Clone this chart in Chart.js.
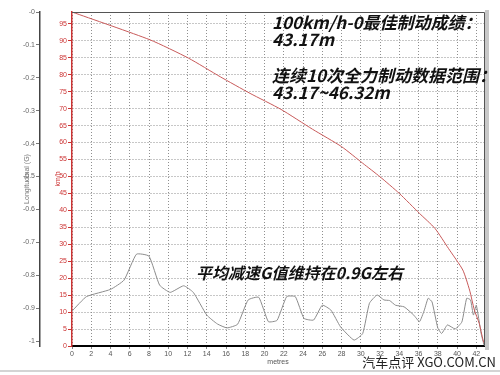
<!DOCTYPE html>
<html>
<head>
<meta charset="utf-8">
<script src="https://cdn.jsdelivr.net/npm/chart.js@4.4.1/dist/chart.umd.min.js"></script>
<style>
  html, body { margin: 0; padding: 0; background: #fff; }
</style>
</head>
<body>
<canvas id="grafico" width="500" height="375"></canvas>
<script>
const distVelocidad = [0, 8.1, 12.1, 15.4, 18.5, 21.7, 25.0, 28.0, 30.2, 32.0, 34.0, 36.1, 37.7, 39.1, 40.6, 41.3, 41.8, 42.3, 42.7, 42.9];
const velocidad = [98.5, 90.3, 84.9, 79.4, 74.5, 69.8, 63.9, 58.8, 53.9, 49.9, 45.0, 39.1, 34.7, 28.8, 22.4, 16.5, 10.6, 6.7, 1.8, 0.3];

// Deceleración longitudinal (G) contra distancia (m), curva gris
const distG = [0, 1.5, 4.0, 5.4, 6.7, 8.0, 9.1, 10.2, 11.6, 12.6, 14.0, 15.1, 16.1, 17.2, 18.3, 19.4, 20.4, 21.3, 22.3, 23.2, 24.1, 25.1, 26.0, 26.9, 27.9, 29.3, 30.2, 30.9, 31.7, 32.4, 33.0, 33.6, 34.5, 35.5, 36.1, 36.6, 37.0, 37.4, 38.0, 38.4, 39.0, 39.8, 40.5, 41.0, 41.4, 41.7, 42.0, 42.5, 42.8];
const longitudinalG = [-0.909, -0.865, -0.843, -0.815, -0.736, -0.742, -0.830, -0.852, -0.832, -0.852, -0.921, -0.948, -0.960, -0.949, -0.875, -0.867, -0.941, -0.937, -0.865, -0.865, -0.931, -0.936, -0.891, -0.906, -0.957, -0.997, -0.977, -0.885, -0.860, -0.875, -0.877, -0.891, -0.896, -0.921, -0.941, -0.906, -0.870, -0.881, -0.960, -0.977, -0.951, -0.963, -0.942, -0.870, -0.875, -0.921, -0.891, -0.977, -1.012];

// Marcas de los ejes
const xTicks = [0, 2, 4, 6, 8, 10, 12, 14, 16, 18, 20, 22, 24, 26, 28, 30, 32, 34, 36, 38, 40, 42];
const kmhTicks = [0, 5, 10, 15, 20, 25, 30, 35, 40, 45, 50, 55, 60, 65, 70, 75, 80, 85, 90, 95];
const gTicks = [0, -0.1, -0.2, -0.3, -0.4, -0.5, -0.6, -0.7, -0.8, -0.9, -1];
const gTickLabels = ["-0", "-0.1", "-0.2", "-0.3", "-0.4", "-0.5", "-0.6", "-0.7", "-0.8", "-0.9", "-1"];

const fuenteEje = { family: "Liberation Sans", size: 7 };
const colorRejilla = "#8f8f8f";

// Textos y marcos que van encima del gráfico
const textos = {
  id: "textos",
  afterDraw(chart) {
    const ctx = chart.ctx;
    const area = chart.chartArea;
    ctx.save();
    // borde superior y derecho del área
    ctx.strokeStyle = "#555";
    ctx.lineWidth = 1;
    ctx.beginPath();
    ctx.moveTo(area.left, area.top + 0.5);
    ctx.lineTo(area.right + 0.5, area.top + 0.5);
    ctx.lineTo(area.right + 0.5, area.bottom);
    ctx.stroke();
    // franja gris a la derecha
    ctx.fillStyle = "#c8c8c8";
    ctx.fillRect(area.right + 1, area.top - 2, 4, area.bottom - area.top + 6);
    // línea inferior
    ctx.fillStyle = "#d4d4d4";
    ctx.fillRect(0, 370, 500, 2);

    ctx.fillStyle = "#111";
    ctx.textBaseline = "middle";
    ctx.textAlign = "left";
    ctx.font = "italic bold 17px 'Noto Sans CJK SC'";
    ctx.fillText("100km/h-0最佳制动成绩：", 272, 23);
    ctx.fillText("43.17m", 272, 40);
    ctx.fillText("连续10次全力制动数据范围：", 272, 76);
    ctx.fillText("43.17~46.32m", 272, 93);
    ctx.font = "italic bold 16px 'Noto Sans CJK SC'";
    ctx.fillText("平均减速G值维持在0.9G左右", 196, 273);

    ctx.textAlign = "right";
    ctx.fillStyle = "#222";
    ctx.font = "13px 'Noto Sans CJK SC'";
    ctx.fillText("汽车点评 XGO.COM.CN", 496, 362);
    ctx.restore();
  },
};

new Chart(document.getElementById("grafico").getContext("2d"), {
  type: "line",
  data: {
    datasets: [
      {
        label: "km/h",
        data: distVelocidad.map((d, i) => ({ x: d, y: velocidad[i] })),
        yAxisID: "kmh",
        borderColor: "#c85a5a",
        borderWidth: 1,
        pointRadius: 0,
        tension: 0.2,
      },
      {
        label: "Longitudinal (G)",
        data: distG.map((d, i) => ({ x: d, y: longitudinalG[i] })),
        yAxisID: "g",
        borderColor: "#8c8c8c",
        borderWidth: 1,
        pointRadius: 0,
        tension: 0.15,
      },
    ],
  },
  options: {
    responsive: false,
    animation: false,
    layout: { padding: { left: 20, right: 16, top: 12, bottom: 0 } },
    scales: {
      x: {
        type: "linear",
        position: "bottom",
        min: 0,
        max: 42.8,
        afterBuildTicks: (s) => { s.ticks = xTicks.map((v) => ({ value: v })); },
        afterFit: (s) => { s.height = 29; },
        grid: { color: colorRejilla, tickLength: 3, tickColor: "#888", tickBorderDash: [] },
        border: { color: "#000", width: 2, dash: [1, 2] },
        ticks: { color: "#555", font: fuenteEje, padding: 1, maxRotation: 0, autoSkip: false },
        title: { display: true, text: "metres", color: "#555", font: fuenteEje, padding: { top: 0, bottom: 9 } },
      },
      g: {
        type: "linear",
        position: "left",
        weight: 1,
        min: -1.015,
        max: 0,
        afterBuildTicks: (s) => { s.ticks = gTicks.map((v) => ({ value: v })); },
        afterFit: (s) => { s.width = 20; },
        grid: { drawOnChartArea: false, tickLength: 4, tickColor: "#777" },
        border: { color: "#444", width: 1.5 },
        ticks: { color: "#666", font: fuenteEje, padding: 1, callback: (v, i) => gTickLabels[i] },
        title: { display: true, text: "Longitudinal (G)", color: "#777", font: fuenteEje, padding: { top: 3, bottom: 0 } },
      },
      kmh: {
        type: "linear",
        position: "left",
        weight: 0,
        min: 0,
        max: 98.5,
        afterBuildTicks: (s) => { s.ticks = kmhTicks.map((v) => ({ value: v })); },
        afterFit: (s) => { s.width = 32; },
        grid: { color: colorRejilla, tickLength: 4, tickColor: "#cc3333", tickBorderDash: [] },
        border: { color: "#cc3333", width: 1.5, dash: [1, 2] },
        ticks: { color: "#cc3333", font: fuenteEje, padding: 1 },
        title: { display: true, text: "km/h", color: "#cc3333", font: fuenteEje, padding: { top: 14, bottom: 0 } },
      },
    },
    plugins: {
      legend: { display: false },
      tooltip: { enabled: false },
    },
  },
  plugins: [textos],
});
</script>
</body>
</html>
